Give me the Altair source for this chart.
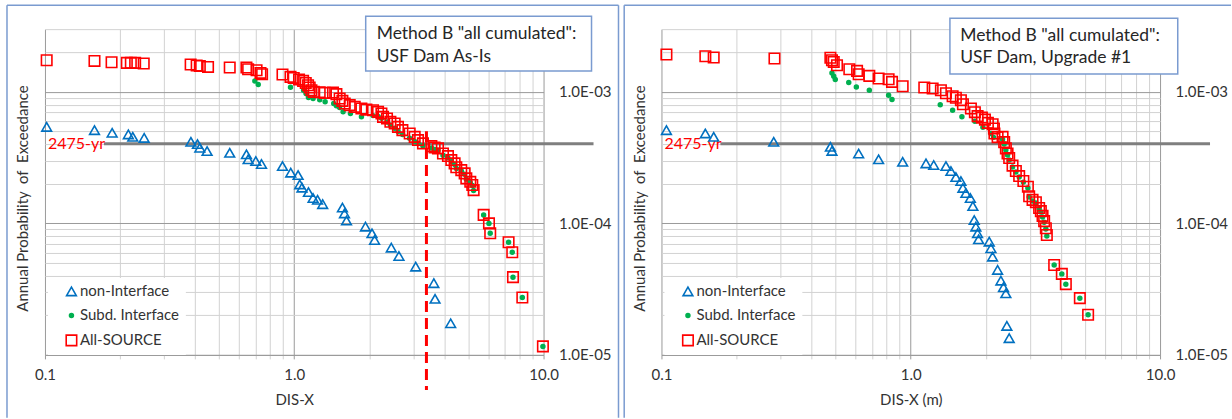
import altair as alt
import pandas as pd

SERIES = ["non-Interface", "Subd. Interface", "All-SOURCE"]
P_2475 = 1 / 2475  # annual exceedance probability of the 2475-yr event

# ---------------- left panel: USF Dam As-Is ----------------
L_NON_X = [0.1016, 0.158, 0.186, 0.216, 0.225, 0.250, 0.385, 0.409, 0.418, 0.447,
           0.551, 0.643, 0.653, 0.701, 0.739, 0.897, 0.968, 1.036, 1.052, 1.074,
           1.14, 1.19, 1.24, 1.30, 1.56, 1.59, 1.62, 1.93, 2.05, 2.10,
           2.45, 2.63, 3.07, 3.63, 3.67, 4.24]
L_NON_Y = [5.42e-4, 5.12e-4, 4.89e-4, 4.75e-4, 4.55e-4, 4.47e-4, 4.17e-4, 4.01e-4, 3.76e-4, 3.55e-4,
           3.44e-4, 3.35e-4, 3.07e-4, 2.98e-4, 2.83e-4, 2.73e-4, 2.43e-4, 2.33e-4, 1.98e-4, 1.87e-4,
           1.73e-4, 1.56e-4, 1.51e-4, 1.40e-4, 1.32e-4, 1.19e-4, 1.05e-4, 9.44e-5, 8.41e-5, 7.48e-5,
           6.54e-5, 5.65e-5, 4.69e-5, 3.51e-5, 2.67e-5, 1.74e-5]

L_SUBD_X = [0.695, 0.717, 0.966, 1.09, 1.115, 1.14, 1.19, 1.265, 1.33, 1.44,
            1.476, 1.52, 1.57, 1.68, 1.86, 2.07, 2.17, 2.24, 2.36, 2.43,
            2.53, 2.61, 2.72, 2.90, 3.04, 3.14, 3.28, 3.55, 3.66, 3.77,
            3.95, 4.13, 4.27, 4.40, 4.47, 4.68, 4.82, 4.90, 5.08, 5.18,
            5.24, 5.75, 6.04, 6.11, 7.24, 7.49, 7.54, 8.22, 9.94]
L_SUBD_Y = [1.21e-3, 1.14e-3, 1.085e-3, 1.03e-3, 9.72e-4, 9.07e-4, 8.9e-4, 8.7e-4, 8.4e-4, 8.16e-4,
            7.83e-4, 7.6e-4, 7.05e-4, 6.85e-4, 6.46e-4, 6.6e-4, 6.5e-4, 6.3e-4, 5.9e-4, 5.6e-4,
            5.3e-4, 5.0e-4, 4.75e-4, 4.45e-4, 4.2e-4, 4.05e-4, 3.9e-4, 3.75e-4, 3.65e-4, 3.6e-4,
            3.3e-4, 3.15e-4, 2.95e-4, 2.8e-4, 2.62e-4, 2.5e-4, 2.36e-4, 2.17e-4, 2.05e-4, 1.94e-4,
            1.78e-4, 1.16e-4, 1.0e-4, 8.41e-5, 7.18e-5, 6.03e-5, 3.90e-5, 2.73e-5, 1.16e-5]

L_ALL_X = [0.1016, 0.158, 0.185, 0.213, 0.221, 0.230, 0.249, 0.384, 0.406, 0.418,
           0.451, 0.551, 0.643, 0.653, 0.706, 0.732, 0.743, 0.897, 0.966, 0.995,
           1.045, 1.085, 1.112, 1.136, 1.153, 1.172, 1.197, 1.265, 1.325, 1.430,
           1.476, 1.521, 1.560, 1.594, 1.669, 1.748, 1.859, 1.947, 2.070, 2.168,
           2.237, 2.270, 2.355, 2.430, 2.528, 2.606, 2.715, 2.904, 3.041, 3.135,
           3.283, 3.548, 3.656, 3.771, 3.949, 4.135, 4.266, 4.398, 4.467, 4.677,
           4.825, 4.90, 5.083, 5.178, 5.242, 5.75, 6.04, 6.11, 7.24, 7.49,
           7.54, 8.22, 9.94]
L_ALL_Y = [1.741e-3, 1.72e-3, 1.681e-3, 1.661e-3, 1.661e-3, 1.661e-3, 1.643e-3, 1.614e-3, 1.586e-3, 1.575e-3,
           1.548e-3, 1.532e-3, 1.532e-3, 1.487e-3, 1.462e-3, 1.394e-3, 1.363e-3, 1.356e-3, 1.300e-3, 1.277e-3,
           1.242e-3, 1.212e-3, 1.170e-3, 1.124e-3, 1.080e-3, 1.030e-3, 1.0e-3, 9.95e-4, 9.83e-4, 9.9e-4,
           9.61e-4, 8.91e-4, 8.54e-4, 8.16e-4, 7.93e-4, 7.69e-4, 7.48e-4, 7.33e-4, 7.26e-4, 7.05e-4,
           6.85e-4, 6.46e-4, 6.28e-4, 5.92e-4, 5.75e-4, 5.42e-4, 5.12e-4, 4.83e-4, 4.55e-4, 4.30e-4,
           4.06e-4, 3.87e-4, 3.78e-4, 3.72e-4, 3.40e-4, 3.25e-4, 3.03e-4, 2.86e-4, 2.67e-4, 2.54e-4,
           2.40e-4, 2.20e-4, 2.07e-4, 1.96e-4, 1.79e-4, 1.16e-4, 1.0e-4, 8.41e-5, 7.18e-5, 6.03e-5,
           3.90e-5, 2.73e-5, 1.16e-5]

# DIS-X read at the 2475-yr level (dashed marker) and its vertical extent
L_MARK_X = 3.39
L_MARK_Y = [5.03e-4, 5.4e-6]

# ---------------- right panel: USF Dam, Upgrade #1 ----------------
R_NON_X = [0.1047, 0.150, 0.162, 0.282, 0.476, 0.483, 0.618, 0.743, 0.928, 1.151,
           1.236, 1.384, 1.449, 1.517, 1.589, 1.619, 1.664, 1.734, 1.775, 1.797,
           1.824, 1.853, 1.871, 2.064, 2.097, 2.129, 2.230, 2.299, 2.355, 2.407,
           2.429, 2.482]
R_NON_Y = [5.12e-4, 4.83e-4, 4.55e-4, 4.17e-4, 3.82e-4, 3.56e-4, 3.40e-4, 3.07e-4, 2.94e-4, 2.86e-4,
           2.78e-4, 2.73e-4, 2.50e-4, 2.25e-4, 2.10e-4, 1.86e-4, 1.70e-4, 1.56e-4, 1.355e-4, 1.06e-4,
           9.44e-5, 8.41e-5, 7.57e-5, 7.26e-5, 6.47e-5, 5.58e-5, 4.43e-5, 3.67e-5, 3.27e-5, 2.94e-5,
           1.66e-5, 1.34e-5]

R_SUBD_X = [0.483, 0.491, 0.498, 0.564, 0.605, 0.682, 0.815, 0.841, 1.313, 1.472,
            1.604, 1.808, 1.947, 2.097, 2.149, 2.335, 2.370, 2.407, 2.445, 2.482,
            2.560, 2.640, 2.722, 2.830, 2.950, 2.985, 3.080, 3.176, 3.273, 3.325,
            3.378, 3.428, 3.482, 3.514, 3.761, 4.036, 4.188, 4.767, 5.145]
R_SUBD_Y = [1.394e-3, 1.316e-3, 1.242e-3, 1.179e-3, 1.091e-3, 1.030e-3, 9.44e-4, 8.76e-4, 7.99e-4, 7.26e-4,
            6.46e-4, 5.99e-4, 5.39e-4, 4.83e-4, 4.51e-4, 4.37e-4, 4.01e-4, 3.61e-4, 3.31e-4, 3.03e-4,
            2.68e-4, 2.46e-4, 2.25e-4, 2.06e-4, 1.86e-4, 1.59e-4, 1.48e-4, 1.43e-4, 1.29e-4, 1.22e-4,
            1.12e-4, 1.02e-4, 9.07e-5, 8.02e-5, 4.83e-5, 4.13e-5, 3.45e-5, 2.70e-5, 2.02e-5]

R_ALL_X = [0.1047, 0.150, 0.162, 0.284, 0.476, 0.483, 0.491, 0.506, 0.567, 0.609,
           0.618, 0.682, 0.743, 0.815, 0.841, 0.928, 1.133, 1.224, 1.321, 1.384,
           1.472, 1.517, 1.589, 1.619, 1.743, 1.808, 1.854, 1.929, 1.984, 2.039,
           2.130, 2.156, 2.166, 2.230, 2.335, 2.370, 2.407, 2.445, 2.482, 2.560,
           2.640, 2.722, 2.830, 2.950, 2.985, 3.080, 3.176, 3.273, 3.325, 3.378,
           3.428, 3.482, 3.514, 3.761, 4.036, 4.188, 4.767, 5.145]
R_ALL_Y = [1.923e-3, 1.866e-3, 1.825e-3, 1.793e-3, 1.819e-3, 1.741e-3, 1.690e-3, 1.595e-3, 1.487e-3, 1.444e-3,
           1.363e-3, 1.323e-3, 1.264e-3, 1.249e-3, 1.191e-3, 1.105e-3, 1.080e-3, 1.061e-3, 1.030e-3, 9.77e-4,
           9.27e-4, 9.03e-4, 8.65e-4, 8.06e-4, 7.48e-4, 7.01e-4, 6.54e-4, 6.37e-4, 6.15e-4, 5.81e-4,
           5.68e-4, 5.27e-4, 4.83e-4, 4.53e-4, 4.55e-4, 4.15e-4, 3.72e-4, 3.40e-4, 3.14e-4, 2.75e-4,
           2.50e-4, 2.29e-4, 2.10e-4, 1.90e-4, 1.61e-4, 1.51e-4, 1.45e-4, 1.31e-4, 1.24e-4, 1.14e-4,
           1.04e-4, 9.18e-5, 8.16e-5, 4.83e-5, 4.13e-5, 3.45e-5, 2.70e-5, 2.02e-5]

# ---------------- styling ----------------
W, H = 499, 326
FONT = "Lato"
INK = "#333333"
BLUE, GREEN, RED = "#0070c0", "#00b050", "#ff0000"
FRAME = "#7a9bd0"
MAJOR, MINOR = "#9a9a9a", "#d2d2d2"

X_TICKS = [round(k * 10.0 ** e, 6) for e in (-1, 0) for k in range(1, 10)] + [10.0]
Y_TICKS = [float(f"{k}e{e}") for e in (-5, -4) for k in range(1, 10)] + [1e-3, 2e-3, 3e-3]

X_MAJOR = "datum.value == 0.1 || datum.value == 1 || datum.value == 10"
Y_MAJOR = "datum.value == 0.00001 || datum.value == 0.0001 || datum.value == 0.001"


def x_enc(title):
    return alt.X(
        "x:Q",
        title=title,
        scale=alt.Scale(type="log", domain=[0.1, 10], nice=False),
        axis=alt.Axis(
            values=X_TICKS,
            labelExpr="datum.value == 0.1 ? '0.1' : datum.value == 1 ? '1.0' : "
                      "datum.value == 10 ? '10.0' : ''",
            grid=True,
            gridColor={"condition": {"test": X_MAJOR, "value": MAJOR}, "value": MINOR},
            domain=True, domainColor=MAJOR,
            ticks=True, tickSize=4,
            tickColor={"condition": {"test": X_MAJOR, "value": MAJOR}, "value": MINOR},
            labelFont=FONT, labelFontSize=15, labelColor=INK, labelPadding=9,
            labelFlush=False, labelOverlap=False,
            titleFont=FONT, titleFontSize=15, titleFontWeight="normal", titleColor=INK,
            titlePadding=10,
        ),
    )


def y_enc():
    return alt.Y(
        "y:Q",
        scale=alt.Scale(type="log", domain=[1e-5, 3e-3], nice=False),
        axis=alt.Axis(
            orient="right",
            values=Y_TICKS,
            labelExpr="datum.value == 0.001 ? '1.0E-03' : datum.value == 0.0001 ? '1.0E-04' : "
                      "datum.value == 0.00001 ? '1.0E-05' : ''",
            grid=True,
            gridColor={"condition": {"test": Y_MAJOR, "value": MAJOR}, "value": MINOR},
            domain=False, ticks=False,
            labelFont=FONT, labelFontSize=15, labelColor=INK, labelPadding=15,
            labelBaseline="middle", labelFlush=False, labelOverlap=False,
            title="Annual Probability\u00a0 of\u00a0 Exceedance",
            titleFont=FONT, titleFontSize=15, titleFontWeight="normal", titleColor=INK,
            titleAngle=270, titleX=-(W + 22), titleY=H / 2 + 6,
            titleAlign="center", titleBaseline="middle",
        ),
    )


def legend():
    return alt.Legend(
        orient="none", legendX=3, legendY=249, title=None,
        fillColor="white", padding=6, symbolOffset=10, rowPadding=8,
        labelFont=FONT, labelFontSize=15, labelColor=INK, labelOffset=1,
        symbolStrokeWidth=1.6,
    )


def panel(non, subd, allsrc, xtitle, box, marker=None):
    X, Y = x_enc(xtitle), y_enc()
    one = pd.DataFrame({"k": [0]})

    pts = pd.concat([
        pd.DataFrame({"x": non[0], "y": non[1], "series": SERIES[0]}),
        pd.DataFrame({"x": subd[0], "y": subd[1], "series": SERIES[1]}),
        pd.DataFrame({"x": allsrc[0], "y": allsrc[1], "series": SERIES[2]}),
    ], ignore_index=True)

    points = alt.Chart(pts).mark_point(filled=False, strokeWidth=1.6, opacity=1).encode(
        x=X, y=Y,
        color=alt.Color("series:N", scale=alt.Scale(domain=SERIES, range=[BLUE, GREEN, RED]),
                        legend=legend()),
        shape=alt.Shape("series:N", scale=alt.Scale(domain=SERIES,
                                                     range=["triangle-up", "circle", "square"]),
                        legend=legend()),
        fill=alt.Fill("series:N", scale=alt.Scale(domain=SERIES,
                                                   range=["transparent", GREEN, "transparent"]),
                      legend=legend()),
        size=alt.Size("series:N", scale=alt.Scale(type="ordinal", domain=SERIES, range=[95, 15, 110]),
                      legend=legend()),
    )

    # 2475-yr return-period level
    lvl = pd.DataFrame({"y": [P_2475]})
    level = alt.Chart(lvl).mark_rule(color="#7f7f7f", strokeWidth=3).encode(
        y=Y, x=alt.value(59), x2=alt.value(W + 50))
    level_lbl = alt.Chart(lvl).mark_text(
        align="left", baseline="middle", color=RED, font=FONT, fontSize=16
    ).encode(y=Y, x=alt.value(3), text=alt.value("2475-yr"))

    # chart-area border (left, top, right)
    fx0, fx1 = box["frame"]
    frame = [
        alt.Chart(one).mark_rule(color=FRAME, strokeWidth=1.5).encode(
            x=alt.value(fx0), y=alt.value(-24), y2=alt.value(H + 63)),
        alt.Chart(one).mark_rule(color=FRAME, strokeWidth=1.5).encode(
            x=alt.value(fx0), x2=alt.value(fx1), y=alt.value(-24)),
    ]
    if box.get("right_edge"):
        frame.append(alt.Chart(one).mark_rule(color=FRAME, strokeWidth=1.5).encode(
            x=alt.value(fx1), y=alt.value(-24), y2=alt.value(H + 63)))

    bx0, bx1, by0, by1 = box["rect"]
    note_box = alt.Chart(one).mark_rect(fill="white", stroke=FRAME, strokeWidth=1.5).encode(
        x=alt.value(bx0), x2=alt.value(bx1), y=alt.value(by0), y2=alt.value(by1))
    note_txt = alt.Chart(one).mark_text(
        align="left", baseline="alphabetic", font=FONT, fontSize=17.5, lineHeight=22.4, color="#262626"
    ).encode(x=alt.value(box["text"][0]), y=alt.value(box["text"][1]), text=alt.value(box["lines"]))

    layers = frame + [level, level_lbl]
    if marker is not None:
        mk = pd.DataFrame({"x": [marker[0]], "y": [marker[1][0]], "y2": [marker[1][1]]})
        layers.append(alt.Chart(mk).mark_rule(color=RED, strokeWidth=3, strokeDash=[11, 6]).encode(
            x=X, y=Y, y2="y2:Q"))
    layers += [points, note_box, note_txt]
    return alt.layer(*layers).properties(width=W, height=H)


left = panel(
    (L_NON_X, L_NON_Y), (L_SUBD_X, L_SUBD_Y), (L_ALL_X, L_ALL_Y), "DIS-X",
    {"frame": (-38, W + 75), "right_edge": True, "rect": (321, 547, -13, 42), "text": (332, 10.3),
     "lines": ['Method B "all cumulated":', "USF Dam As-Is"]},
    marker=(L_MARK_X, L_MARK_Y),
)
right = panel(
    (R_NON_X, R_NON_Y), (R_SUBD_X, R_SUBD_Y), (R_ALL_X, R_ALL_Y), "DIS-X (m)",
    {"frame": (-37.3, W + 71), "right_edge": False, "rect": (288.7, 516.7, -11, 45), "text": (299, 11.7),
     "lines": ['Method B "all cumulated":', "USF Dam, Upgrade #1"]},
)

chart = (
    alt.hconcat(left, right, spacing=3)
    .resolve_scale(color="independent", shape="independent", fill="independent", size="independent")
    .resolve_legend(color="independent", shape="independent", fill="independent", size="independent")
    .configure_view(stroke=None)
    .properties(padding={"left": 6, "top": 4, "right": 0, "bottom": 0}, background="white")
)

chart.save("out.html", embed_options={"renderer": "svg", "actions": False})
